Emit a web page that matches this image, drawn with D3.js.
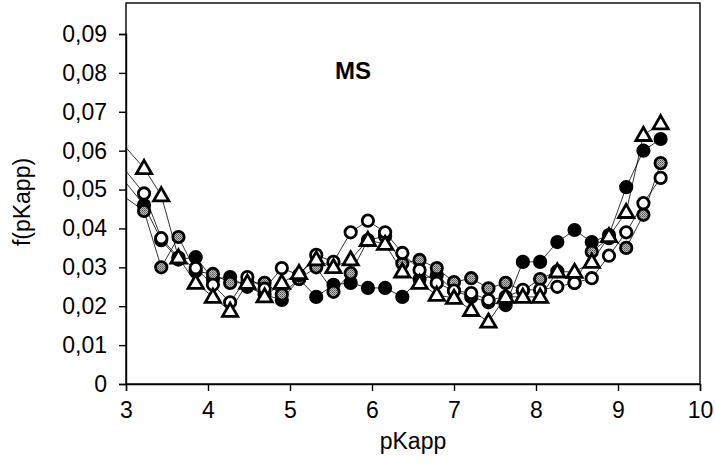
<!DOCTYPE html>
<html><head><meta charset="utf-8">
<script src="https://cdn.jsdelivr.net/npm/d3@7"></script>
<style>html,body{margin:0;padding:0;background:#fff;}svg{display:block;font-family:"Liberation Sans",Arial,sans-serif;}</style>
</head><body><svg id="c" width="715" height="464"></svg>
<script>
const xValues = [2.99,3.22,3.43,3.64,3.85,4.06,4.27,4.48,4.69,4.90,5.11,5.32,5.53,5.74,5.95,6.16,6.37,6.58,6.79,7.00,7.21,7.42,7.63,7.84,8.05,8.26,8.47,8.68,8.89,9.10,9.31,9.52];
const seriesBlack = [0.052,0.046,0.037,0.032,0.0326,0.027,0.0275,0.025,0.023,0.0216,0.027,0.0224,0.0255,0.026,0.0247,0.0247,0.0224,0.027,0.028,0.024,0.0224,0.021,0.0203,0.0314,0.0314,0.0365,0.0396,0.0365,0.0383,0.0506,0.060,0.063];
const seriesGrey = [0.048,0.0445,0.030,0.0378,0.029,0.0283,0.026,0.026,0.026,0.023,0.027,0.030,0.0237,0.0285,0.037,0.038,0.031,0.0319,0.0298,0.0262,0.0272,0.0246,0.026,0.024,0.027,0.029,0.026,0.034,0.0375,0.035,0.0435,0.0568];
const seriesOpen = [0.055,0.049,0.0375,0.0325,0.0298,0.0255,0.021,0.0275,0.0245,0.0298,0.028,0.0332,0.0314,0.039,0.042,0.039,0.0337,0.0293,0.026,0.024,0.0234,0.0216,0.0224,0.0242,0.0242,0.025,0.026,0.0272,0.033,0.039,0.0465,0.053];
const seriesTri = [0.061,0.0555,0.0485,0.0325,0.026,0.0224,0.0188,0.026,0.0225,0.026,0.0285,0.032,0.030,0.032,0.037,0.036,0.0289,0.026,0.0229,0.0221,0.019,0.016,0.0224,0.0224,0.0224,0.0289,0.0288,0.0314,0.038,0.0442,0.064,0.067];
const xTicks = [3,4,5,6,7,8,9,10];
const yTicks = [0,0.01,0.02,0.03,0.04,0.05,0.06,0.07,0.08,0.09];
const yTickLabels = ["0","0,01","0,02","0,03","0,04","0,05","0,06","0,07","0,08","0,09"];
const title = "MS", xTitle = "pKapp", yTitle = "f(pKapp)";

const L=126, R=700, T=3, B=384;
const svg = d3.select("#c");
const x = d3.scaleLinear().domain([3,10]).range([L,R]);
const y = d3.scaleLinear().domain([0,0.09]).range([B,34]);

const defs = svg.append("defs");
defs.append("clipPath").attr("id","clip").append("rect").attr("x",L).attr("y",T).attr("width",R-L).attr("height",B-T);
const pat = defs.append("pattern").attr("id","dots").attr("width",2).attr("height",2).attr("patternUnits","userSpaceOnUse");
pat.append("rect").attr("width",2).attr("height",2).attr("fill","#bdbdbd");
pat.append("rect").attr("width",1).attr("height",1).attr("fill","#555");
pat.append("rect").attr("x",1).attr("y",1).attr("width",1).attr("height",1).attr("fill","#777");

// frame
svg.append("rect").attr("x",L).attr("y",T).attr("width",R-L).attr("height",B-T).attr("fill","none").attr("stroke","#000").attr("stroke-width",1.4);

// axes
const yAxis = d3.axisLeft(y).tickValues(yTicks).tickFormat((d,i)=>yTickLabels[i]).tickSize(7).tickPadding(12);
const gy = svg.append("g").attr("transform",`translate(${L},0)`).call(yAxis);
const xAxis = d3.axisBottom(x).tickValues(xTicks).tickFormat(d3.format("d")).tickSize(7).tickPadding(11);
const gx = svg.append("g").attr("transform",`translate(0,${B})`).call(xAxis);
[gy,gx].forEach(g=>{
  g.select(".domain").attr("stroke","#000").attr("stroke-width",1.4);
  g.selectAll(".tick line").attr("stroke","#000").attr("stroke-width",1.4);
  g.selectAll("text").attr("font-size",23).attr("fill","#000").attr("font-family","'Liberation Sans',Arial,sans-serif");
});

const plot = svg.append("g").attr("clip-path","url(#clip)");
const series = [
  {v:seriesBlack, type:"circle", fill:"#000"},
  {v:seriesGrey, type:"circle", fill:"url(#dots)"},
  {v:seriesOpen, type:"circle", fill:"#fff"},
  {v:seriesTri, type:"tri", fill:"#fff"}
];
const line = d3.line().x(d=>x(d[0])).y(d=>y(d[1]));
series.forEach(s=>{
  const pts = xValues.map((xv,i)=>[xv,s.v[i]]);
  plot.append("path").datum(pts).attr("d",line).attr("fill","none").attr("stroke","#000").attr("stroke-width",0.8);
});
series.forEach(s=>{
  const pts = xValues.map((xv,i)=>[xv,s.v[i]]).filter(p=>p[0]>=3);
  if(s.type==="circle"){
    plot.selectAll(null).data(pts).enter().append("circle")
      .attr("cx",d=>x(d[0])).attr("cy",d=>y(d[1])).attr("r",5.7)
      .attr("fill",s.fill).attr("stroke","#000").attr("stroke-width",2.8);
  } else {
    const sym = d3.symbol().type(d3.symbolTriangle).size(100);
    plot.selectAll(null).data(pts).enter().append("path")
      .attr("d",sym).attr("transform",d=>`translate(${x(d[0])},${y(d[1])+1})`)
      .attr("fill",s.fill).attr("stroke","#000").attr("stroke-width",2.8).attr("stroke-linejoin","miter");
  }
});

svg.append("text").attr("x",353).attr("y",79).attr("text-anchor","middle").attr("font-size",24).attr("font-weight","bold").text(title);
svg.append("text").attr("x",(L+R)/2).attr("y",449).attr("text-anchor","middle").attr("font-size",23).text(xTitle);
svg.append("text").attr("transform",`translate(30,202) rotate(-90)`).attr("text-anchor","middle").attr("font-size",23).text(yTitle);
</script></body></html>
